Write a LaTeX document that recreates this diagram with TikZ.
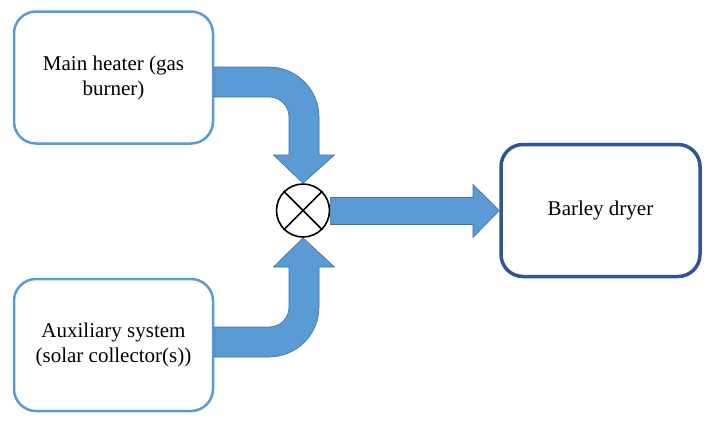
\documentclass[tikz,border=0pt]{standalone}
\usepackage{fontspec}
\setmainfont{Liberation Serif}
\usetikzlibrary{calc}
\definecolor{lblue}{RGB}{91,155,213}
\definecolor{dblue}{RGB}{47,85,151}
\definecolor{aedge}{RGB}{65,113,156}
\begin{document}
\begin{tikzpicture}[x=1pt,y=-1pt,
  box/.style={draw=lblue,line width=2.5pt,rounded corners=22pt,fill=white,
    minimum width=199pt,minimum height=132pt,align=center,
    font=\rmfamily\fontsize{21}{25}\selectfont},
  dbox/.style={box,draw=dblue,line width=3.5pt},
  fat/.style={fill=lblue,draw=aedge,line width=0.6pt,line join=miter},
  junction/.style={circle,draw=black,line width=1.6pt,minimum size=53pt,inner sep=0pt,fill=white}]
\useasboundingbox (0,0) rectangle (708,426);
\node[box] (main) at (113.5,77.5) {Main heater (gas\\burner)};
\node[box] (aux) at (113.5,345) {Auxiliary system\\(solar collector(s))};
\node[dbox] (dryer) at (600.5,210.5) {Barley dryer};
\node[junction] (mix) at (303,210.5) {};
\draw[line width=1.6pt] (mix.north west) -- (mix.south east) (mix.north east) -- (mix.south west);
% top bent arrow
\draw[fat] (main.east |- 0,67) -- (269,67) arc[start angle=-90,end angle=0,radius=50]
  -- (319,155) -- (334.5,155) -- (mix.north) -- (273.5,155) -- (289,155) -- (289,117)
  arc[start angle=0,end angle=-90,radius=20] -- (main.east |- 0,97) -- cycle;
% bottom bent arrow
\draw[fat] (aux.east |- 0,327) -- (269,327) arc[start angle=90,end angle=0,radius=20]
  -- (289,267) -- (273.5,267) -- (mix.south) -- (334.5,267) -- (319,267) -- (319,307)
  arc[start angle=0,end angle=90,radius=50] -- (aux.east |- 0,357) -- cycle;
% right arrow
\draw[fat] (mix.east |- 0,197.5) -- (473,197.5) -- (473,184.5) -- (dryer.west) -- (473,237.5)
  -- (473,224.5) -- (mix.east |- 0,224.5) -- cycle;
\end{tikzpicture}
\end{document}
